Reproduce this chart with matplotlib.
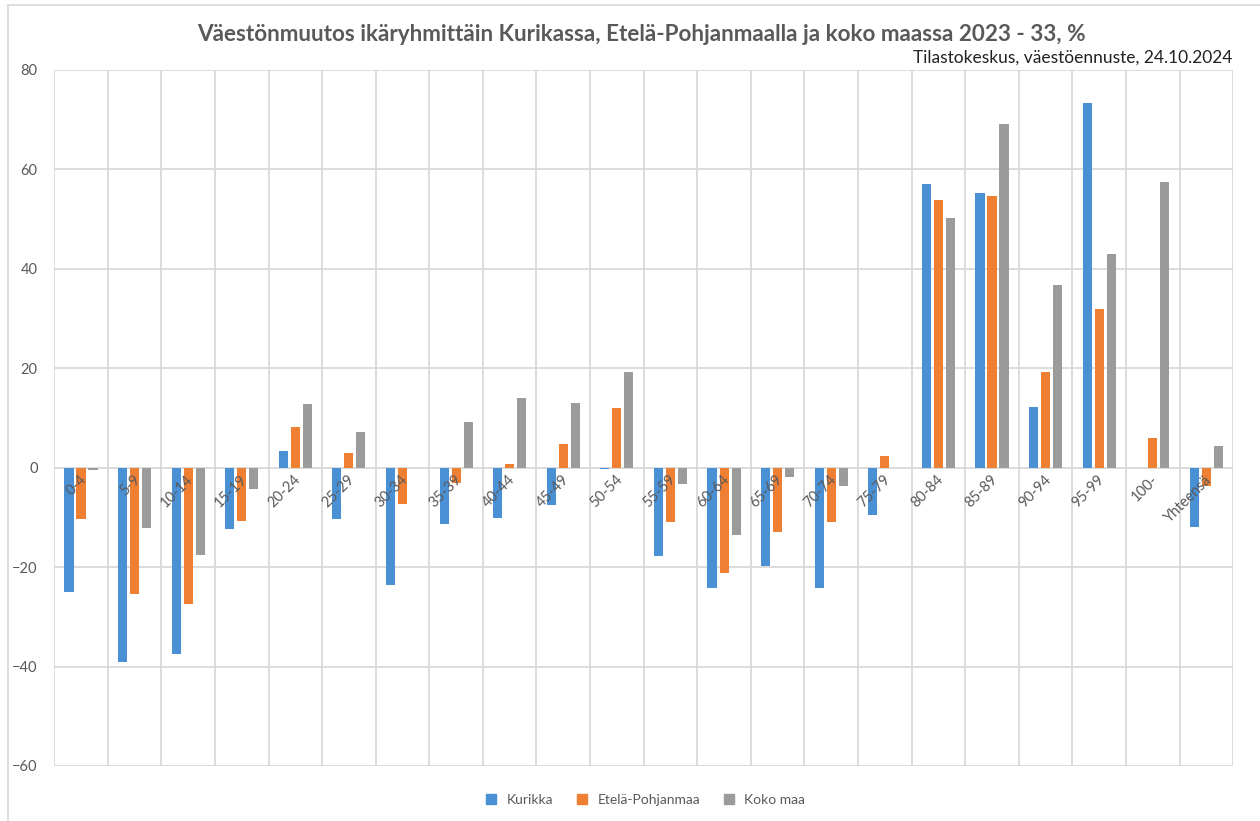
import numpy as np
import matplotlib.pyplot as plt
from matplotlib.lines import Line2D

plt.rcParams["font.family"] = ["Lato", "DejaVu Sans"]

age_groups = ["0-4", "5-9", "10-14", "15-19", "20-24", "25-29", "30-34", "35-39",
              "40-44", "45-49", "50-54", "55-59", "60-64", "65-69", "70-74", "75-79",
              "80-84", "85-89", "90-94", "95-99", "100-", "Yhteensä"]
kurikka = [-25.1, -39.0, -37.5, -12.4, 3.4, -10.3, -23.7, -11.3, -10.2, -7.6, -0.3,
           -17.7, -24.2, -19.7, -24.2, -9.5, 57.1, 55.3, 12.1, 73.3, 0.0, -12.0]
etela_pohjanmaa = [-10.4, -25.5, -27.5, -10.8, 8.2, 3.0, -7.4, -3.1, 0.8, 4.7, 12.0,
                   -10.9, -21.1, -12.9, -11.0, 2.3, 53.9, 54.7, 19.3, 31.9, 5.9, -3.7]
koko_maa = [-0.5, -12.2, -17.5, -4.2, 12.7, 7.2, 0.0, 9.1, 14.0, 12.9, 19.3,
            -3.3, -13.6, -1.9, -3.6, 0.0, 50.2, 69.1, 36.8, 43.0, 57.4, 4.4]

series = [("Kurikka", kurikka, "#4A90D4"),
          ("Etelä-Pohjanmaa", etela_pohjanmaa, "#EF7F33"),
          ("Koko maa", koko_maa, "#9B9B9B")]

TEXT = "#595959"
GRID = "#D9D9D9"


def main():
    fig = plt.figure(figsize=(12.6, 8.21), dpi=100)
    ax = fig.add_axes([0.043, 0.067, 0.9357, 0.848])

    x = np.arange(len(age_groups))
    width = 0.17
    offsets = [-0.224, 0.0, 0.224]
    for (name, vals, color), off in zip(series, offsets):
        ax.bar(x + off, vals, width, color=color, label=name, zorder=3)

    ax.set_xlim(-0.5, len(age_groups) - 0.5)
    ax.set_ylim(-60, 80)
    ax.set_yticks(range(-60, 81, 20))
    ax.set_xticks([])
    # vertical grid lines between categories
    for b in np.arange(-0.5, len(age_groups), 1.0):
        ax.axvline(b, color=GRID, lw=1.3, zorder=1)
    ax.yaxis.grid(True, color=GRID, lw=1.3, zorder=1)
    ax.set_axisbelow(True)
    for s in ax.spines.values():
        s.set_visible(False)
    ax.tick_params(axis="y", length=0, pad=12, labelsize=10.5, labelcolor=TEXT)

    # category labels sit just below the zero line
    for i, lab in enumerate(age_groups):
        ax.text(i + 0.15, -1.0, lab, rotation=45, ha="right", va="top",
                fontsize=10.5, color=TEXT, zorder=4)

    fig.text(0.509, 0.958, "Väestönmuutos ikäryhmittäin Kurikassa, Etelä-Pohjanmaalla ja koko maassa 2023 - 33, %",
             ha="center", va="center", fontsize=16.2, fontweight="bold", color=TEXT)
    fig.text(0.978, 0.93, "Tilastokeskus, väestöennuste, 24.10.2024",
             ha="right", va="center", fontsize=12.5, color="#222222")

    handles = [Line2D([], [], marker="s", ls="", color=c, markersize=7) for _, _, c in series]
    fig.legend(handles, [n for n, _, _ in series], loc="center", bbox_to_anchor=(0.509, 0.026),
               ncol=3, frameon=False, fontsize=10, handletextpad=0.1, columnspacing=1.1,
               labelcolor=TEXT)

    # light frame of the original chart area
    fig.add_artist(Line2D([8 / 1260, 8 / 1260], [0, 1 - 5 / 821], transform=fig.transFigure,
                          color=GRID, lw=1.2))
    fig.add_artist(Line2D([8 / 1260, 1], [1 - 5 / 821, 1 - 5 / 821], transform=fig.transFigure,
                          color=GRID, lw=1.2))

    fig.savefig("out.png", dpi=100)
    plt.close(fig)


if __name__ == "__main__":
    main()
